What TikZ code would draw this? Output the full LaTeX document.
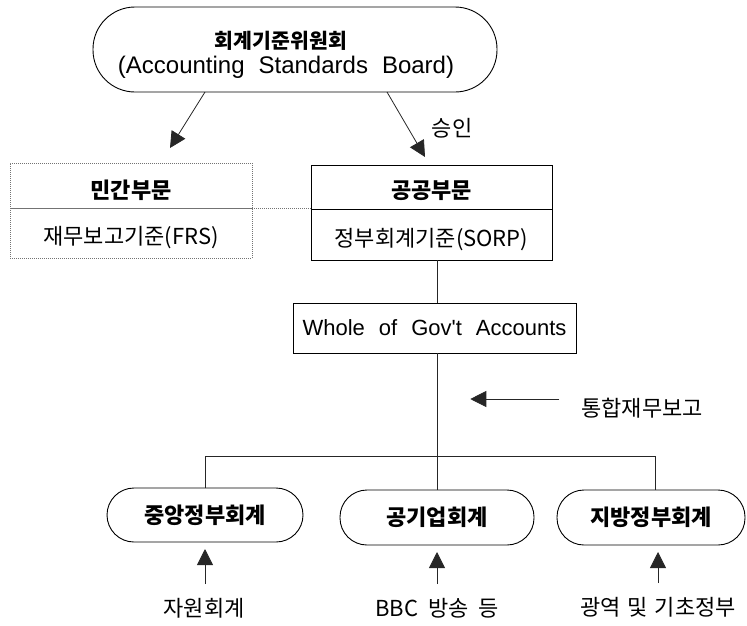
\documentclass[tikz,border=0pt]{standalone}
\usepackage{fontspec}
\setmainfont{Noto Sans CJK KR}
\newfontfamily\kr{Noto Sans CJK KR}
\newfontfamily\lat[Ligatures=TeXOff]{Liberation Sans}
\usetikzlibrary{arrows.meta}

\tikzset{
  every node/.style={inner sep=0pt, outer sep=0pt},
  conn/.style={line width=0.8pt, draw=black!85},
  arr/.style={conn, -{Triangle[length=16pt,width=16pt]}},
  pill/.style={draw, line width=0.9pt, rounded corners=#1},
  solidbox/.style={draw, line width=1pt},
  dotbox/.style={draw=black!55, line width=0.8pt, dash pattern=on 1pt off 1pt},
  dotline/.style={draw=black!55, line width=0.8pt, dash pattern=on 1pt off 1pt},
  head/.style={font=\kr\bfseries\fontsize{22}{26}\selectfont},
  body/.style={font=\kr\fontsize{22}{26}\selectfont},
  latin/.style={font=\lat\fontsize{#1}{#1}\selectfont},
}

\begin{document}
\begin{tikzpicture}[x=1pt,y=-1pt]
\useasboundingbox (0,0) rectangle (747,625);

% standards board
\node[pill=42pt, minimum width=404pt, minimum height=85pt] (asb) at (295,49.5) {};
\node[font=\kr\bfseries\fontsize{20.5}{22}\selectfont] (asbk) at (281,41) {회계기준위원회};
\node[latin=24] (asbe) at (286,67) {\spaceskip=14pt (Accounting Standards Board)};

% private sector (dotted)
\node[dotbox, minimum width=242pt, minimum height=45pt] (privt) at (131,185.5) {};
\node[dotbox, minimum width=242pt, minimum height=50pt] (privb) at (131,233) {};
\node[head] (privtx) at (131,190) {민간부문};
\node[body] (privbx) at (131,238) {재무보고기준(FRS)};

% public sector
\node[solidbox, minimum width=241pt, minimum height=44pt] (pubt) at (431.5,187) {};
\node[solidbox, minimum width=241pt, minimum height=51pt] (pubb) at (431.5,234.5) {};
\node[head] (pubtx) at (431.5,191) {공공부문};
\node[body] (pubbx) at (431.5,240) {정부회계기준(SORP)};

% arrows from the board
\draw[arr] ([xshift=-90pt]asb.south) -- ([xshift=39pt,yshift=15pt]privt.north);
\draw[arr] ([xshift=92pt]asb.south) -- ([xshift=-6.5pt,yshift=8pt]pubt.north);
\node[body] (appr) at (452,128) {승인};

\draw[dotline] (privb.north east) -- (privb.north east -| pubb.west);

% whole of government accounts
\node[solidbox, minimum width=283pt, minimum height=50pt, latin=22] (wga) at (434.5,328) {\spaceskip=14pt Whole of Gov't Accounts};

% lower tier
\node[pill=27pt, minimum width=196pt, minimum height=54pt, head] (cgb) at (205,515) {중앙정부회계};
\node[pill=27pt, minimum width=194pt, minimum height=55pt, head] (midb) at (437,517.5) {공기업회계};
\node[pill=27pt, minimum width=188pt, minimum height=55pt, head] (lgb) at (651,517.5) {지방정부회계};

\draw[conn] (pubb.south -| midb.north) -- (wga.north -| midb.north);
\draw[conn] (wga.south -| midb.north) -- (midb.north);
\coordinate (bar) at (437,456);
\draw[conn] (cgb.north) |- (bar) -| ([xshift=4pt]lgb.north);

% consolidated reporting
\node[body] (tong) at (642,408) {통합재무보고};
\draw[arr] ([xshift=-22pt,yshift=9pt]tong.west) -- ++(-89,0);

% sources
\node[body] (t1) at (204,608) {자원회계};
\node[body] (t2) at (437,608) {\spaceskip=10pt BBC 방송 등};
\node[body] (t3) at (658,607) {\spaceskip=7pt 광역 및 기초정부};
\draw[arr, shorten <=14pt, shorten >=7pt] (cgb.south |- t1.north) -- (cgb.south);
\draw[arr, shorten <=14pt, shorten >=7pt] (t2.north) -- (t2.north |- midb.south);
\draw[arr, shorten <=14pt, shorten >=7pt] (t3.north) -- (t3.north |- lgb.south);
\end{tikzpicture}
\end{document}
